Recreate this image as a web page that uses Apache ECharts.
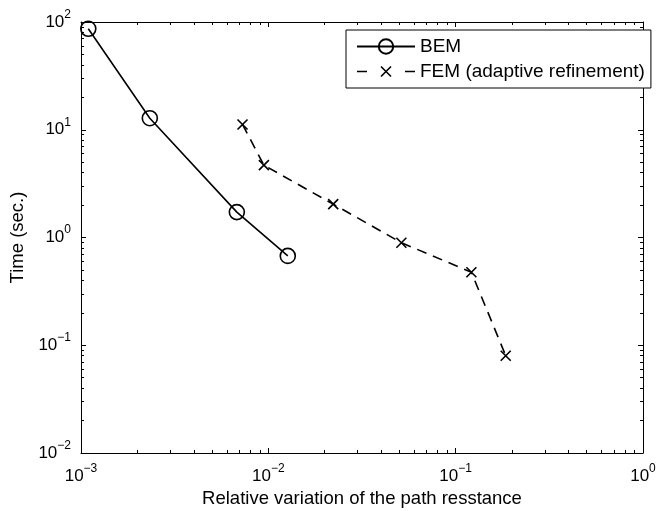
<!DOCTYPE html>
<html>
<head>
<meta charset="utf-8">
<script src="https://cdn.jsdelivr.net/npm/echarts@6/dist/echarts.min.js"></script>
<style>
    html, body { margin: 0; padding: 0; background: #fff; }
    #chart { width: 657px; height: 511px; }
</style>
</head>
<body>
<div id="chart"></div>
<script>
// values (log-log plot)
const bemX = [1.094e-3, 2.33e-3, 6.79e-3, 1.27e-2];
const bemY = [86.5, 12.8, 1.72, 0.675];
const femX = [7.28e-3, 9.47e-3, 0.0222, 0.0513, 0.1213, 0.185];
const femY = [11.2, 4.69, 2.04, 0.895, 0.476, 0.080];
const xRange = [1e-3, 1];
const yRange = [1e-2, 1e2];
const seriesNames = ['BEM', 'FEM (adaptive refinement)'];
const xName = 'Relative variation of the path resstance';
const yName = 'Time (sec.)';

const FONT = '"Liberation Sans", Arial, Helvetica, sans-serif';

// 10^n label as rich text
function powLabel(v) {
    const e = Math.round(Math.log10(v));
    return '{b|10}{e|' + String(e).replace('-', '\u2212') + '}';
}

function makeAxis(position, range, labelOpt) {
    return {
        type: 'log',
        logBase: 10,
        min: range[0],
        max: range[1],
        position: position,
        axisLine: { show: true, onZero: false, lineStyle: { color: '#000', width: 1 } },
        axisTick: { show: true, inside: true, length: 5, lineStyle: { color: '#000', width: 1 } },
        minorTick: { show: true, splitNumber: 9, length: 3, lineStyle: { color: '#000', width: 1 } },
        splitLine: { show: false },
        minorSplitLine: { show: false },
        axisLabel: labelOpt || { show: false }
    };
}

const chart = echarts.init(document.getElementById('chart'), null, { renderer: 'canvas' });

const xBottom = makeAxis('bottom', xRange, {
    show: true,
    margin: 10,
    formatter: powLabel,
    rich: {
        b: { fontFamily: FONT, fontSize: 17, color: '#000', padding: [5, 0, 0, 0], verticalAlign: 'bottom' },
        e: { fontFamily: FONT, fontSize: 12, color: '#000', verticalAlign: 'top' }
    }
});
xBottom.name = xName;
xBottom.nameLocation = 'middle';
xBottom.nameGap = 36;
xBottom.nameTextStyle = { fontFamily: FONT, fontSize: 18.5, color: '#000' };

const yLeft = makeAxis('left', yRange, {
    show: true,
    margin: 10,
    formatter: powLabel,
    rich: {
        b: { fontFamily: FONT, fontSize: 17, color: '#000', padding: [5, 0, 5, 0] },
        e: { fontFamily: FONT, fontSize: 12, color: '#000', verticalAlign: 'top' }
    }
});
yLeft.name = yName;
yLeft.nameLocation = 'middle';
yLeft.nameGap = 47;
yLeft.nameTextStyle = { fontFamily: FONT, fontSize: 18.5, color: '#000' };

const option = {
    animation: false,
    backgroundColor: '#fff',
    grid: { left: 81, top: 22, right: 14, bottom: 58, containLabel: false, outerBoundsMode: 'none' },
    xAxis: [xBottom, makeAxis('top', xRange)],
    yAxis: [yLeft, makeAxis('right', yRange)],
    legend: {
        orient: 'vertical',
        left: 346,
        top: 30,
        padding: [7, 6, 7, 10],
        itemGap: 6,
        itemWidth: 58,
        itemHeight: 18,
        backgroundColor: '#fff',
        borderColor: '#000',
        borderWidth: 1,
        borderRadius: 0,
        textStyle: { fontFamily: FONT, fontSize: 19, color: '#000' },
        data: [
            { name: seriesNames[0] },
            {
                name: seriesNames[1],
                // "- x -" legend key like the original figure
                icon: 'path://M0,9H10M48,9H58M24,4L34,14M34,4L24,14',
                itemStyle: { color: 'transparent', borderColor: '#000', borderWidth: 1.6 }
            }
        ]
    },
    series: [
        {
            name: seriesNames[0],
            type: 'line',
            xAxisIndex: 0,
            yAxisIndex: 0,
            data: bemX.map((x, i) => [x, bemY[i]]),
            symbol: 'circle',
            symbolSize: 15,
            lineStyle: { color: '#000', width: 1.6, type: 'solid' },
            itemStyle: { color: 'transparent', borderColor: '#000', borderWidth: 1.6 },
            emphasis: { disabled: true }
        },
        {
            name: seriesNames[1],
            type: 'line',
            xAxisIndex: 0,
            yAxisIndex: 0,
            data: femX.map((x, i) => [x, femY[i]]),
            symbol: 'path://M0,0L1,1M1,0L0,1',
            symbolSize: 10,
            lineStyle: { color: '#000', width: 1.6, type: [10, 7] },
            itemStyle: { color: 'transparent', borderColor: '#000', borderWidth: 1.6 },
            emphasis: { disabled: true }
        }
    ]
};

chart.setOption(option);
</script>
</body>
</html>
